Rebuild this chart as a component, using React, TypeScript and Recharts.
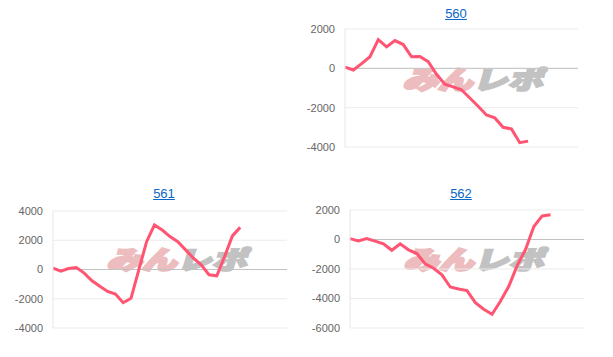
import { CartesianGrid, Line, LineChart, ReferenceLine, XAxis, YAxis } from 'recharts';

const days29 = ['1', '2', '3', '4', '5', '6', '7', '8', '9', '10', '11', '12', '13', '14', '15', '16', '17', '18', '19', '20', '21', '22', '23', '24', '25', '26', '27', '28', '29'];
const days31 = ['1', '2', '3', '4', '5', '6', '7', '8', '9', '10', '11', '12', '13', '14', '15', '16', '17', '18', '19', '20', '21', '22', '23', '24', '25', '26', '27', '28', '29', '30', '31'];

const values560 = [65, -85, 240, 590, 1460, 1090, 1410, 1210, 590, 605, 340, -300, -810, -940, -1090, -1510, -1930, -2370, -2520, -3000, -3080, -3780, -3700];
const values561 = [95, -110, 70, 140, -245, -770, -1150, -1500, -1680, -2270, -1970, -30, 1900, 3040, 2700, 2250, 1900, 1340, 775, 320, -360, -430, 885, 2300, 2880];
const values562 = [60, -90, 70, -115, -290, -730, -290, -700, -950, -1650, -1950, -2400, -3220, -3350, -3460, -4280, -4730, -5070, -4190, -3170, -1770, -680, 880, 1600, 1680];

const ticks560 = [-4000, -2000, 0, 2000];
const ticks561 = [-4000, -2000, 0, 2000, 4000];
const ticks562 = [-6000, -4000, -2000, 0, 2000];

function toRows(days: string[], values: number[]) {
  return days.map((day, i) => ({ day, value: i < values.length ? values[i] : null }));
}

interface MiniProps {
  title: string;
  rows: { day: string; value: number | null }[];
  ticks: number[];
  left: number;
  top: number;
  yWidth: number;
  margin: { top: number; right: number; bottom: number; left: number };
  titleX: number;
  markX: number;
}

// watermark sits behind the plot, the svg is transparent
function Watermark({ x }: { x: number }) {
  return (
    <div
      style={{
        position: 'absolute',
        left: x,
        top: 65,
        fontFamily: '"Noto Sans CJK JP"',
        fontWeight: 900,
        fontSize: 25,
        lineHeight: '26px',
        whiteSpace: 'nowrap',
        transform: 'skewX(-16deg) scaleX(1.4)',
        transformOrigin: 'left center',
      }}
    >
      <span style={{ color: '#ecbcbe', WebkitTextStroke: '2.5px #ecbcbe' }}>みん</span>
      <span style={{ color: '#c2c2c2', WebkitTextStroke: '2px #c2c2c2' }}>レポ</span>
    </div>
  );
}

function MiniChart({ title, rows, ticks, left, top, yWidth, margin, titleX, markX }: MiniProps) {
  return (
    <div style={{ position: 'absolute', left, top, width: 300, height: 160 }}>
      <div
        style={{
          position: 'absolute',
          left: titleX - 30,
          width: 60,
          top: 6,
          textAlign: 'center',
          fontFamily: '"Liberation Sans", Arial, sans-serif',
          fontSize: 13,
          lineHeight: '15px',
          color: '#0a66c8',
          textDecoration: 'underline',
        }}
      >
        {title}
      </div>
      <Watermark x={markX} />
      <div style={{ position: 'absolute', left: 0, top: 0 }}>
        <LineChart width={300} height={160} data={rows} margin={margin}>
          <CartesianGrid vertical={false} stroke='#ebebeb' strokeWidth={1} />
          <XAxis dataKey='day' hide />
          <YAxis
            width={yWidth}
            domain={[ticks[0], ticks[ticks.length - 1]]}
            ticks={ticks}
            interval={0}
            tickLine={false}
            tickSize={0}
            tickMargin={10}
            axisLine={{ stroke: '#e6e6e6' }}
            tick={{ fill: '#666666', fontSize: 11, fontFamily: '"Liberation Sans", Arial, sans-serif' }}
          />
          <ReferenceLine y={0} stroke='#c2c2c2' />
          <Line
            type='linear'
            dataKey='value'
            stroke='#ff5472'
            strokeWidth={3}
            dot={false}
            connectNulls={false}
            isAnimationActive={false}
          />
        </LineChart>
      </div>
    </div>
  );
}

export default function App() {
  return (
    <div style={{ position: 'absolute', left: 0, top: 0, width: 613, height: 357, background: '#ffffff' }}>
      <MiniChart
        title='560'
        rows={toRows(days29, values560)}
        ticks={ticks560}
        left={300}
        top={0}
        yWidth={45}
        margin={{ top: 29, right: 22, bottom: 13, left: 0 }}
        titleX={156}
        markX={106}
      />
      <MiniChart
        title='561'
        rows={toRows(days31, values561)}
        ticks={ticks561}
        left={0}
        top={180}
        yWidth={53}
        margin={{ top: 31, right: 13, bottom: 12, left: 0 }}
        titleX={164}
        markX={110}
      />
      <MiniChart
        title='562'
        rows={toRows(days29, values562)}
        ticks={ticks562}
        left={300}
        top={180}
        yWidth={50}
        margin={{ top: 30, right: 16, bottom: 12, left: 0 }}
        titleX={161}
        markX={107}
      />
    </div>
  );
}
